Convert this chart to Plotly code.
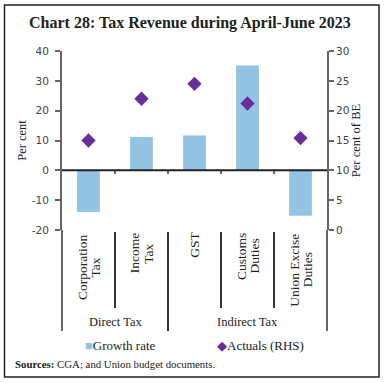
import plotly.graph_objects as go

categories = ["Corporation<br>Tax", "Income<br>Tax", "GST", "Customs<br>Duties", "Union Excise<br>Duties"]
groups = ["Direct Tax", "Indirect Tax"]
group_sizes = [2, 3]
growth_rate = [-14.0, 11.2, 11.7, 35.1, -15.2]
actuals_rhs = [15.0, 22.0, 24.5, 21.2, 15.4]
left_ticks = [-20, -10, 0, 10, 20, 30, 40]
right_ticks = [0, 5, 10, 15, 20, 25, 30]

W, H = 384, 383
L, R, T, B = 62, 327, 51, 230  # plot area in pixels

def px(x):
    return (x - L) / (R - L)

def py(y):
    return (B - y) / (B - T)

SERIF = "Liberation Serif"
SANS = "DejaVu Sans"
AXC = "#666666"
TXT = "#222222"

fig = go.Figure()
fig.add_trace(go.Bar(x=categories, y=growth_rate, name="Growth rate",
                     marker=dict(color="#93C4E4", line=dict(width=0)),
                     width=0.43, yaxis="y"))
fig.add_trace(go.Scatter(x=categories, y=actuals_rhs, name="Actuals (RHS)", mode="markers",
                         marker=dict(symbol="diamond", size=11, color="#6A2E9A"),
                         yaxis="y2"))

shapes = []
shapes.append(dict(type="rect", xref="paper", yref="paper",
                   x0=px(4.5), x1=px(379), y0=py(377), y1=py(5),
                   line=dict(color=TXT, width=1.5)))
shapes.append(dict(type="line", xref="paper", yref="y", x0=0, x1=1, y0=0, y1=0,
                   line=dict(color=TXT, width=2)))
for xx in (0, 1):
    shapes.append(dict(type="line", xref="paper", yref="paper", x0=xx, x1=xx,
                       y0=0, y1=py(331), line=dict(color=AXC, width=2)))
n = len(categories)
bounds = []
acc = 0
for g in group_sizes[:-1]:
    acc += g
    bounds.append(acc)
for i in range(1, n):
    xb = i - 0.5
    shapes.append(dict(type="line", xref="x", yref="y", x0=xb, x1=xb, y0=0, y1=-1.2,
                       line=dict(color="#333333", width=1.5)))
    y_end = py(331) if i in bounds else py(308)
    shapes.append(dict(type="line", xref="x", yref="paper", x0=xb, x1=xb,
                       y0=py(232), y1=y_end, line=dict(color="#333333", width=2)))

annotations = []
annotations.append(dict(text="<b>Chart 28: Tax Revenue during April-June 2023</b>",
                        xref="paper", yref="paper", x=px(190), y=py(23),
                        xanchor="center", yanchor="middle", showarrow=False,
                        font=dict(family=SERIF, size=16, color=TXT)))
LINE_SP = 13.5
CHAR_W = 5.5
for i, c in enumerate(categories):
    lines = c.split("<br>")
    k = len(lines)
    longest = max(len(s) for s in lines)
    yc = 237 + longest * CHAR_W / 2
    for j, ln in enumerate(lines):
        annotations.append(dict(text=ln, xref="x", yref="paper", x=i, y=py(yc),
                                xanchor="center", yanchor="middle", textangle=-90,
                                showarrow=False, xshift=(j - (k - 1) / 2) * LINE_SP,
                                font=dict(family=SERIF, size=13.5, color=TXT)))
start = 0
for g, s in zip(groups, group_sizes):
    annotations.append(dict(text=g, xref="x", yref="paper", x=start + (s - 1) / 2,
                            y=py(322), xanchor="center", yanchor="middle", showarrow=False,
                            font=dict(family=SERIF, size=12.5, color=TXT)))
    start += s
annotations.append(dict(text="<span style='color:#93C4E4'>■</span>Growth rate",
                        xref="paper", yref="paper", x=px(83), y=py(345),
                        xanchor="left", yanchor="middle", showarrow=False,
                        font=dict(family=SERIF, size=13, color=TXT)))
annotations.append(dict(text="<span style='color:#6A2E9A'>◆</span>Actuals (RHS)",
                        xref="paper", yref="paper", x=px(215), y=py(345),
                        xanchor="left", yanchor="middle", showarrow=False,
                        font=dict(family=SERIF, size=13, color=TXT)))
annotations.append(dict(text="<b>Sources:</b> CGA; and Union budget documents.",
                        xref="paper", yref="paper", x=px(13), y=py(364),
                        xanchor="left", yanchor="middle", showarrow=False,
                        font=dict(family=SERIF, size=10.8, color=TXT)))

fig.update_layout(
    width=W, height=H,
    margin=dict(l=L, r=W - R, t=T, b=H - B, pad=0),
    paper_bgcolor="white", plot_bgcolor="white",
    showlegend=False,
    xaxis=dict(type="category", showticklabels=False, showline=False, ticks="",
               showgrid=False, zeroline=False, range=[-0.5, n - 0.5]),
    yaxis=dict(range=[-20, 40], tickvals=left_ticks, ticktext=[str(v) for v in left_ticks],
               ticks="outside", ticklen=5, ticklabelstandoff=4,
               tickcolor=AXC, tickwidth=1.5, showline=True, linecolor=AXC, linewidth=2,
               showgrid=False, zeroline=False,
               tickfont=dict(family=SANS, size=10.5, color="#444444"),
               title=dict(text="Per cent", font=dict(family=SERIF, size=12.5, color=TXT),
                          standoff=2)),
    yaxis2=dict(range=[0, 30], tickvals=right_ticks, ticktext=[str(v) for v in right_ticks],
                overlaying="y", side="right",
                ticks="outside", ticklen=5, tickcolor=AXC, tickwidth=1.5,
                showline=True, linecolor=AXC, linewidth=2, showgrid=False, zeroline=False,
                tickfont=dict(family=SANS, size=10.5, color="#444444"),
                title=dict(text="Per cent of BE", font=dict(family=SERIF, size=12.5, color=TXT),
                           standoff=0)),
    shapes=shapes, annotations=annotations,
)

fig.write_html("out.html", config={"displayModeBar": False},
               post_script="document.body.style.margin='0';")
